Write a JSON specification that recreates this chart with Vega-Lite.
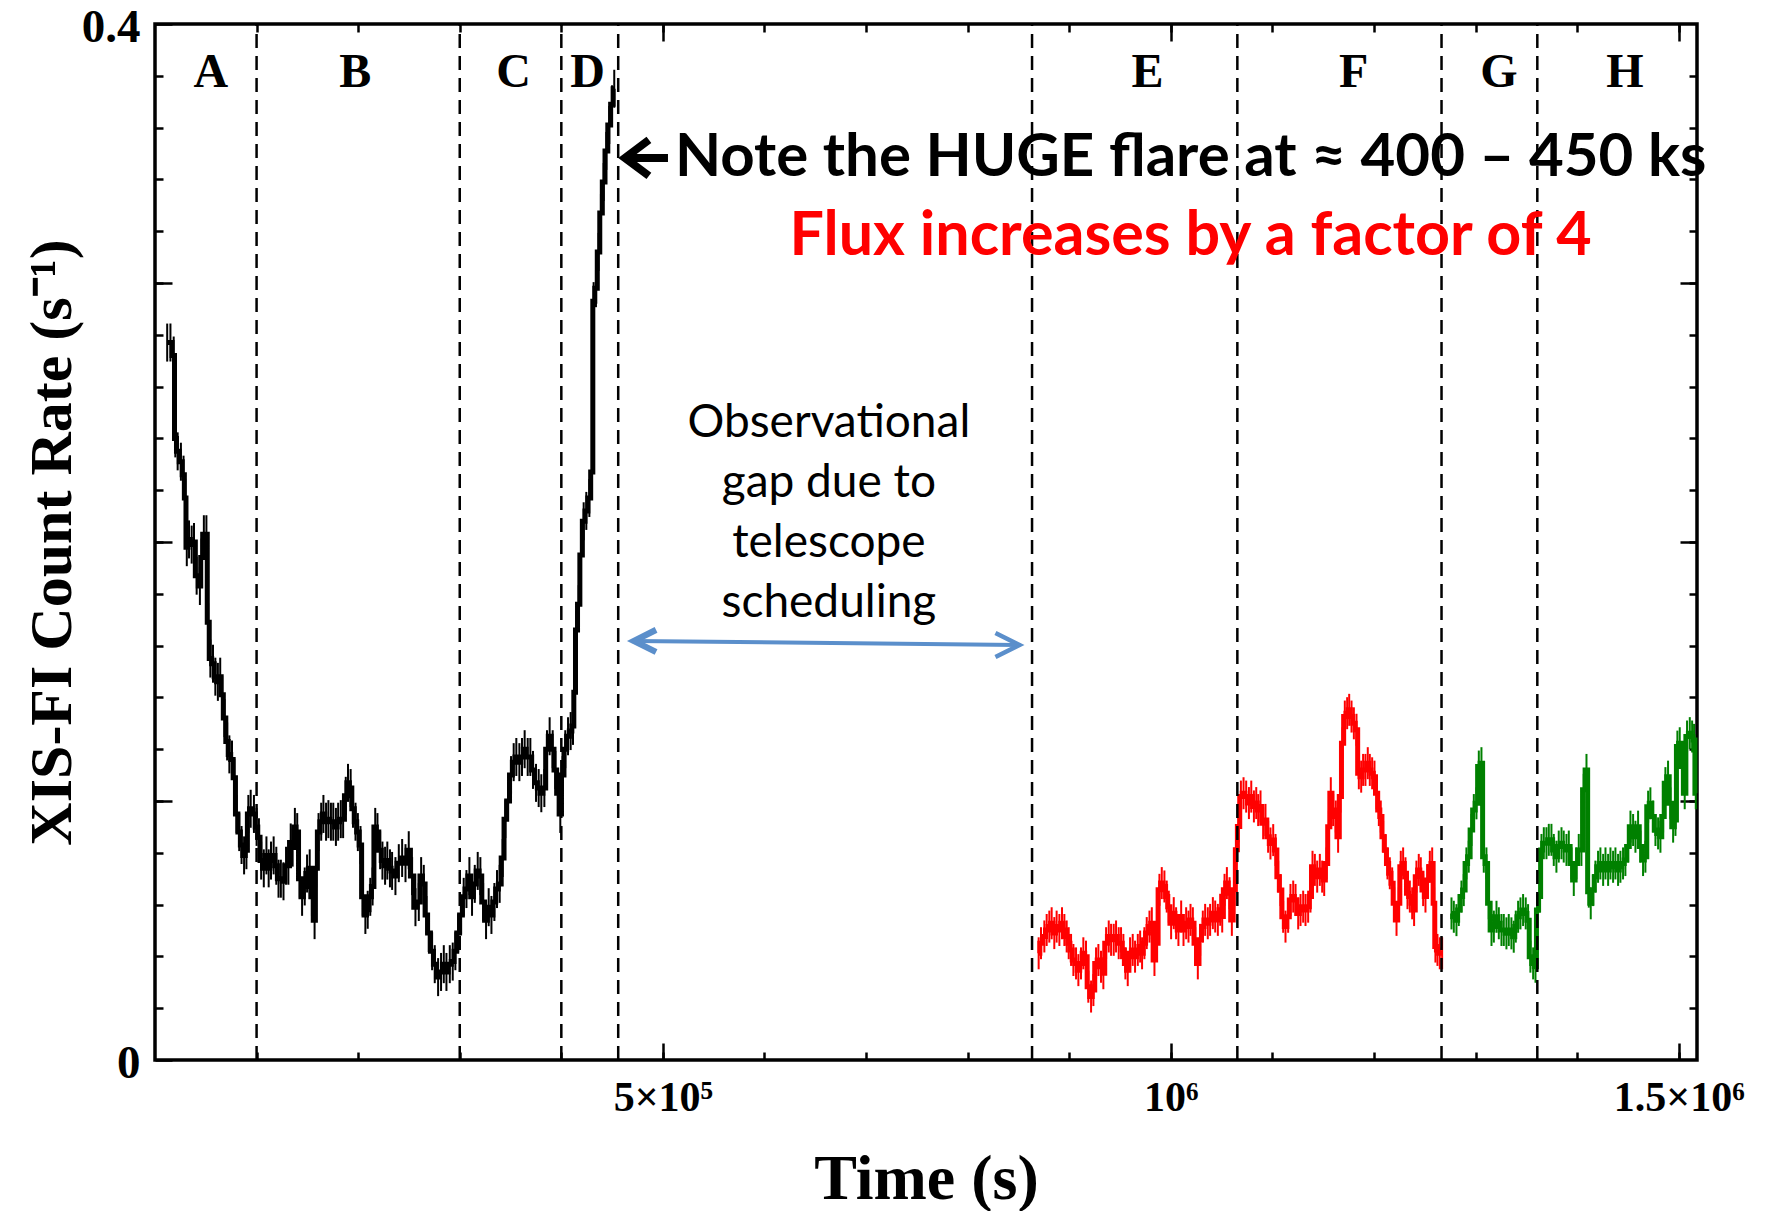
{
"$schema": "https://vega.github.io/schema/vega-lite/v6.json",
"width": 1542, "height": 1036,
"autosize": {"type": "none"},
"padding": {"left": 155, "top": 24, "right": 72, "bottom": 151},
"background": "white",
"config": {
 "view": {"stroke": "#000000", "strokeWidth": 3.5},
 "axis": {"domain": false, "grid": false, "tickColor": "#000000", "tickWidth": 2.5, "labelFlush": false, "labelOverlap": false, "labelBound": false, "labelFont": "Liberation Serif", "labelFontWeight": "bold", "labelColor": "#000000", "titleFont": "Liberation Serif", "titleFontWeight": "bold", "titleColor": "#000000"}
},
"datasets": {
 "lc": [
{"t":12000,"rate":0.277,"seg":"k"},{"t":15200,"rate":0.277,"seg":"k"},{"t":18400,"rate":0.272,"seg":"k"},{"t":20000,"rate":0.240,"seg":"k"},{"t":22300,"rate":0.235,"seg":"k"},{"t":25500,"rate":0.231,"seg":"k"},{"t":28100,"rate":0.226,"seg":"k"},{"t":29700,"rate":0.217,"seg":"k"},{"t":31300,"rate":0.198,"seg":"k"},{"t":33500,"rate":0.201,"seg":"k"},{"t":36100,"rate":0.199,"seg":"k"},{"t":38400,"rate":0.200,"seg":"k"},{"t":41000,"rate":0.187,"seg":"k"},{"t":44200,"rate":0.183,"seg":"k"},{"t":45800,"rate":0.194,"seg":"k"},{"t":48100,"rate":0.203,"seg":"k"},{"t":50600,"rate":0.203,"seg":"k"},{"t":52300,"rate":0.169,"seg":"k"},{"t":54500,"rate":0.155,"seg":"k"},{"t":57100,"rate":0.153,"seg":"k"},{"t":59400,"rate":0.148,"seg":"k"},{"t":61900,"rate":0.146,"seg":"k"},{"t":64200,"rate":0.148,"seg":"k"},{"t":66100,"rate":0.141,"seg":"k"},{"t":68400,"rate":0.132,"seg":"k"},{"t":71000,"rate":0.123,"seg":"k"},{"t":73200,"rate":0.118,"seg":"k"},{"t":75800,"rate":0.116,"seg":"k"},{"t":78100,"rate":0.109,"seg":"k"},{"t":80300,"rate":0.095,"seg":"k"},{"t":82900,"rate":0.088,"seg":"k"},{"t":85200,"rate":0.083,"seg":"k"},{"t":87700,"rate":0.079,"seg":"k"},{"t":90000,"rate":0.081,"seg":"k"},{"t":91900,"rate":0.095,"seg":"k"},{"t":94200,"rate":0.097,"seg":"k"},{"t":97400,"rate":0.095,"seg":"k"},{"t":100000,"rate":0.090,"seg":"k"},{"t":102300,"rate":0.086,"seg":"k"},{"t":104500,"rate":0.077,"seg":"k"},{"t":107100,"rate":0.074,"seg":"k"},{"t":109700,"rate":0.079,"seg":"k"},{"t":111900,"rate":0.074,"seg":"k"},{"t":114200,"rate":0.077,"seg":"k"},{"t":116800,"rate":0.079,"seg":"k"},{"t":119400,"rate":0.075,"seg":"k"},{"t":121600,"rate":0.070,"seg":"k"},{"t":123900,"rate":0.070,"seg":"k"},{"t":126500,"rate":0.069,"seg":"k"},{"t":129000,"rate":0.075,"seg":"k"},{"t":131300,"rate":0.075,"seg":"k"},{"t":133600,"rate":0.084,"seg":"k"},{"t":135500,"rate":0.082,"seg":"k"},{"t":137700,"rate":0.090,"seg":"k"},{"t":140000,"rate":0.088,"seg":"k"},{"t":142600,"rate":0.070,"seg":"k"},{"t":144800,"rate":0.063,"seg":"k"},{"t":147400,"rate":0.067,"seg":"k"},{"t":149700,"rate":0.072,"seg":"k"},{"t":152300,"rate":0.074,"seg":"k"},{"t":154500,"rate":0.063,"seg":"k"},{"t":157100,"rate":0.054,"seg":"k"},{"t":158700,"rate":0.074,"seg":"k"},{"t":161000,"rate":0.088,"seg":"k"},{"t":163600,"rate":0.092,"seg":"k"},{"t":165800,"rate":0.095,"seg":"k"},{"t":168400,"rate":0.092,"seg":"k"},{"t":170700,"rate":0.093,"seg":"k"},{"t":173200,"rate":0.092,"seg":"k"},{"t":175500,"rate":0.092,"seg":"k"},{"t":178100,"rate":0.090,"seg":"k"},{"t":180300,"rate":0.092,"seg":"k"},{"t":182900,"rate":0.093,"seg":"k"},{"t":185200,"rate":0.093,"seg":"k"},{"t":187800,"rate":0.102,"seg":"k"},{"t":190000,"rate":0.107,"seg":"k"},{"t":192600,"rate":0.105,"seg":"k"},{"t":194900,"rate":0.097,"seg":"k"},{"t":197400,"rate":0.092,"seg":"k"},{"t":199700,"rate":0.088,"seg":"k"},{"t":202300,"rate":0.083,"seg":"k"},{"t":204500,"rate":0.063,"seg":"k"},{"t":207100,"rate":0.056,"seg":"k"},{"t":209400,"rate":0.058,"seg":"k"},{"t":211900,"rate":0.063,"seg":"k"},{"t":214200,"rate":0.067,"seg":"k"},{"t":216800,"rate":0.090,"seg":"k"},{"t":219000,"rate":0.088,"seg":"k"},{"t":221600,"rate":0.081,"seg":"k"},{"t":223900,"rate":0.077,"seg":"k"},{"t":226500,"rate":0.075,"seg":"k"},{"t":228700,"rate":0.077,"seg":"k"},{"t":231300,"rate":0.074,"seg":"k"},
{"t":233400,"rate":0.073,"seg":"k"},{"t":236700,"rate":0.071,"seg":"k"},{"t":240000,"rate":0.076,"seg":"k"},{"t":243300,"rate":0.078,"seg":"k"},{"t":246600,"rate":0.076,"seg":"k"},{"t":249800,"rate":0.081,"seg":"k"},{"t":253100,"rate":0.071,"seg":"k"},{"t":256400,"rate":0.059,"seg":"k"},{"t":259700,"rate":0.061,"seg":"k"},{"t":262000,"rate":0.071,"seg":"k"},{"t":264600,"rate":0.068,"seg":"k"},{"t":267200,"rate":0.056,"seg":"k"},{"t":269500,"rate":0.049,"seg":"k"},{"t":272800,"rate":0.042,"seg":"k"},{"t":275400,"rate":0.037,"seg":"k"},{"t":278700,"rate":0.032,"seg":"k"},{"t":281600,"rate":0.034,"seg":"k"},{"t":284300,"rate":0.037,"seg":"k"},{"t":286900,"rate":0.034,"seg":"k"},{"t":290200,"rate":0.037,"seg":"k"},{"t":293100,"rate":0.038,"seg":"k"},{"t":295700,"rate":0.042,"seg":"k"},{"t":298400,"rate":0.049,"seg":"k"},{"t":301300,"rate":0.056,"seg":"k"},{"t":303900,"rate":0.063,"seg":"k"},{"t":306600,"rate":0.066,"seg":"k"},{"t":309500,"rate":0.071,"seg":"k"},{"t":312100,"rate":0.063,"seg":"k"},{"t":314800,"rate":0.068,"seg":"k"},{"t":317700,"rate":0.073,"seg":"k"},{"t":320300,"rate":0.071,"seg":"k"},{"t":323000,"rate":0.061,"seg":"k"},{"t":325900,"rate":0.054,"seg":"k"},{"t":328500,"rate":0.059,"seg":"k"},{"t":331200,"rate":0.056,"seg":"k"},{"t":334100,"rate":0.061,"seg":"k"},{"t":336700,"rate":0.066,"seg":"k"},{"t":339300,"rate":0.068,"seg":"k"},{"t":342300,"rate":0.078,"seg":"k"},{"t":344900,"rate":0.093,"seg":"k"},{"t":347500,"rate":0.100,"seg":"k"},{"t":350500,"rate":0.110,"seg":"k"},{"t":353100,"rate":0.115,"seg":"k"},{"t":355700,"rate":0.117,"seg":"k"},{"t":358700,"rate":0.115,"seg":"k"},{"t":361300,"rate":0.117,"seg":"k"},{"t":363900,"rate":0.120,"seg":"k"},{"t":366900,"rate":0.117,"seg":"k"},{"t":369500,"rate":0.117,"seg":"k"},{"t":372100,"rate":0.112,"seg":"k"},{"t":375100,"rate":0.107,"seg":"k"},{"t":377700,"rate":0.105,"seg":"k"},{"t":380300,"rate":0.103,"seg":"k"},{"t":383300,"rate":0.105,"seg":"k"},{"t":385900,"rate":0.120,"seg":"k"},{"t":388500,"rate":0.125,"seg":"k"},{"t":391500,"rate":0.120,"seg":"k"},{"t":394100,"rate":0.112,"seg":"k"},{"t":396700,"rate":0.103,"seg":"k"},{"t":399000,"rate":0.095,"seg":"k"},{"t":401300,"rate":0.110,"seg":"k"},{"t":403900,"rate":0.120,"seg":"k"},{"t":406600,"rate":0.125,"seg":"k"},{"t":409200,"rate":0.127,"seg":"k"},{"t":411500,"rate":0.129,"seg":"k"},{"t":413100,"rate":0.142,"seg":"k"},{"t":414800,"rate":0.166,"seg":"k"},{"t":417100,"rate":0.176,"seg":"k"},{"t":419400,"rate":0.195,"seg":"k"},{"t":422000,"rate":0.208,"seg":"k"},{"t":424600,"rate":0.212,"seg":"k"},{"t":427600,"rate":0.217,"seg":"k"},{"t":430200,"rate":0.227,"seg":"k"},{"t":431800,"rate":0.293,"seg":"k"},{"t":434100,"rate":0.298,"seg":"k"},{"t":436700,"rate":0.312,"seg":"k"},{"t":439000,"rate":0.327,"seg":"k"},{"t":441700,"rate":0.339,"seg":"k"},{"t":444300,"rate":0.351,"seg":"k"},{"t":447200,"rate":0.361,"seg":"k"},{"t":449900,"rate":0.369,"seg":"k"},{"t":452100,"rate":0.375,"seg":"k"},
{"t":869900,"rate":0.0412,"seg":"r"},{"t":872200,"rate":0.0451,"seg":"r"},{"t":875500,"rate":0.0477,"seg":"r"},{"t":877800,"rate":0.0502,"seg":"r"},{"t":880400,"rate":0.0515,"seg":"r"},{"t":882700,"rate":0.0528,"seg":"r"},{"t":885300,"rate":0.0490,"seg":"r"},{"t":887600,"rate":0.0515,"seg":"r"},{"t":890300,"rate":0.0502,"seg":"r"},{"t":892900,"rate":0.0528,"seg":"r"},{"t":895200,"rate":0.0502,"seg":"r"},{"t":897500,"rate":0.0477,"seg":"r"},{"t":899500,"rate":0.0451,"seg":"r"},{"t":901800,"rate":0.0425,"seg":"r"},{"t":904100,"rate":0.0386,"seg":"r"},{"t":906700,"rate":0.0373,"seg":"r"},{"t":909000,"rate":0.0347,"seg":"r"},{"t":911600,"rate":0.0373,"seg":"r"},{"t":913900,"rate":0.0412,"seg":"r"},{"t":916500,"rate":0.0399,"seg":"r"},{"t":918800,"rate":0.0283,"seg":"r"},{"t":921500,"rate":0.0245,"seg":"r"},{"t":923800,"rate":0.0270,"seg":"r"},{"t":926400,"rate":0.0373,"seg":"r"},{"t":928700,"rate":0.0386,"seg":"r"},{"t":931300,"rate":0.0360,"seg":"r"},{"t":933600,"rate":0.0335,"seg":"r"},{"t":936300,"rate":0.0451,"seg":"r"},{"t":938900,"rate":0.0477,"seg":"r"},{"t":941200,"rate":0.0464,"seg":"r"},{"t":943800,"rate":0.0464,"seg":"r"},{"t":946100,"rate":0.0477,"seg":"r"},{"t":948700,"rate":0.0451,"seg":"r"},{"t":951000,"rate":0.0451,"seg":"r"},{"t":953300,"rate":0.0425,"seg":"r"},{"t":955300,"rate":0.0373,"seg":"r"},{"t":957600,"rate":0.0347,"seg":"r"},{"t":959900,"rate":0.0412,"seg":"r"},{"t":962500,"rate":0.0425,"seg":"r"},{"t":964800,"rate":0.0399,"seg":"r"},{"t":967500,"rate":0.0425,"seg":"r"},{"t":969800,"rate":0.0438,"seg":"r"},{"t":971700,"rate":0.0412,"seg":"r"},{"t":974000,"rate":0.0451,"seg":"r"},{"t":976300,"rate":0.0490,"seg":"r"},{"t":979000,"rate":0.0515,"seg":"r"},{"t":981300,"rate":0.0528,"seg":"r"},{"t":983900,"rate":0.0386,"seg":"r"},{"t":986200,"rate":0.0451,"seg":"r"},{"t":988800,"rate":0.0657,"seg":"r"},{"t":991100,"rate":0.0683,"seg":"r"},{"t":993700,"rate":0.0670,"seg":"r"},{"t":996000,"rate":0.0631,"seg":"r"},{"t":998000,"rate":0.0592,"seg":"r"},{"t":1000300,"rate":0.0528,"seg":"r"},{"t":1002900,"rate":0.0567,"seg":"r"},{"t":1005200,"rate":0.0528,"seg":"r"},{"t":1007500,"rate":0.0502,"seg":"r"},{"t":1010200,"rate":0.0554,"seg":"r"},{"t":1012500,"rate":0.0502,"seg":"r"},{"t":1015100,"rate":0.0528,"seg":"r"},{"t":1017400,"rate":0.0515,"seg":"r"},{"t":1019400,"rate":0.0541,"seg":"r"},{"t":1021700,"rate":0.0528,"seg":"r"},{"t":1024000,"rate":0.0451,"seg":"r"},{"t":1026600,"rate":0.0373,"seg":"r"},{"t":1028900,"rate":0.0464,"seg":"r"},{"t":1031500,"rate":0.0515,"seg":"r"},{"t":1033800,"rate":0.0541,"seg":"r"},{"t":1036400,"rate":0.0528,"seg":"r"},{"t":1038700,"rate":0.0541,"seg":"r"},{"t":1041400,"rate":0.0567,"seg":"r"},{"t":1043700,"rate":0.0554,"seg":"r"},{"t":1046300,"rate":0.0541,"seg":"r"},{"t":1048600,"rate":0.0580,"seg":"r"},{"t":1050600,"rate":0.0554,"seg":"r"},{"t":1052900,"rate":0.0657,"seg":"r"},{"t":1055200,"rate":0.0683,"seg":"r"},{"t":1057800,"rate":0.0644,"seg":"r"},{"t":1060100,"rate":0.0541,"seg":"r"},{"t":1062700,"rate":0.0657,"seg":"r"},{"t":1064400,"rate":0.0812,"seg":"r"},{"t":1066700,"rate":0.0902,"seg":"r"},{"t":1069000,"rate":0.1017,"seg":"r"},{"t":1071600,"rate":0.1030,"seg":"r"},{"t":1074200,"rate":0.1017,"seg":"r"},{"t":1076900,"rate":0.0992,"seg":"r"},{"t":1079200,"rate":0.1017,"seg":"r"},{"t":1081800,"rate":0.0979,"seg":"r"},{"t":1084100,"rate":0.0992,"seg":"r"},
{"t":1086000,"rate":0.0965,"seg":"r"},{"t":1088300,"rate":0.0979,"seg":"r"},{"t":1090900,"rate":0.0914,"seg":"r"},{"t":1093200,"rate":0.0927,"seg":"r"},{"t":1095800,"rate":0.0862,"seg":"r"},{"t":1098100,"rate":0.0836,"seg":"r"},{"t":1100800,"rate":0.0849,"seg":"r"},{"t":1103100,"rate":0.0811,"seg":"r"},{"t":1105700,"rate":0.0708,"seg":"r"},{"t":1108000,"rate":0.0656,"seg":"r"},{"t":1110600,"rate":0.0553,"seg":"r"},{"t":1112900,"rate":0.0515,"seg":"r"},{"t":1115500,"rate":0.0553,"seg":"r"},{"t":1117800,"rate":0.0618,"seg":"r"},{"t":1120500,"rate":0.0631,"seg":"r"},{"t":1122800,"rate":0.0618,"seg":"r"},{"t":1125400,"rate":0.0566,"seg":"r"},{"t":1127700,"rate":0.0579,"seg":"r"},{"t":1130300,"rate":0.0592,"seg":"r"},{"t":1132600,"rate":0.0579,"seg":"r"},{"t":1135200,"rate":0.0592,"seg":"r"},{"t":1137500,"rate":0.0631,"seg":"r"},{"t":1139500,"rate":0.0746,"seg":"r"},{"t":1141800,"rate":0.0734,"seg":"r"},{"t":1144100,"rate":0.0708,"seg":"r"},{"t":1146700,"rate":0.0734,"seg":"r"},{"t":1149000,"rate":0.0708,"seg":"r"},{"t":1151000,"rate":0.0695,"seg":"r"},{"t":1153300,"rate":0.0759,"seg":"r"},{"t":1155600,"rate":0.0901,"seg":"r"},{"t":1157500,"rate":0.1030,"seg":"r"},{"t":1159800,"rate":0.0965,"seg":"r"},{"t":1162400,"rate":0.0940,"seg":"r"},{"t":1164700,"rate":0.0862,"seg":"r"},{"t":1167000,"rate":0.1017,"seg":"r"},{"t":1169000,"rate":0.1223,"seg":"r"},{"t":1171300,"rate":0.1326,"seg":"r"},{"t":1173600,"rate":0.1339,"seg":"r"},{"t":1175600,"rate":0.1352,"seg":"r"},{"t":1177900,"rate":0.1326,"seg":"r"},{"t":1180200,"rate":0.1300,"seg":"r"},{"t":1182800,"rate":0.1275,"seg":"r"},{"t":1185100,"rate":0.1107,"seg":"r"},{"t":1187400,"rate":0.1094,"seg":"r"},{"t":1189300,"rate":0.1120,"seg":"r"},{"t":1191600,"rate":0.1120,"seg":"r"},{"t":1193900,"rate":0.1146,"seg":"r"},{"t":1195900,"rate":0.1120,"seg":"r"},{"t":1198200,"rate":0.1107,"seg":"r"},{"t":1200500,"rate":0.1094,"seg":"r"},{"t":1202500,"rate":0.1030,"seg":"r"},{"t":1204800,"rate":0.0965,"seg":"r"},{"t":1206700,"rate":0.0940,"seg":"r"},{"t":1209000,"rate":0.0862,"seg":"r"},{"t":1211300,"rate":0.0811,"seg":"r"},{"t":1213300,"rate":0.0759,"seg":"r"},{"t":1215600,"rate":0.0721,"seg":"r"},{"t":1217900,"rate":0.0682,"seg":"r"},{"t":1219900,"rate":0.0605,"seg":"r"},{"t":1222200,"rate":0.0541,"seg":"r"},{"t":1224500,"rate":0.0605,"seg":"r"},{"t":1226400,"rate":0.0746,"seg":"r"},{"t":1228700,"rate":0.0759,"seg":"r"},{"t":1231000,"rate":0.0721,"seg":"r"},{"t":1233000,"rate":0.0644,"seg":"r"},{"t":1235300,"rate":0.0631,"seg":"r"},{"t":1237600,"rate":0.0605,"seg":"r"},{"t":1239500,"rate":0.0579,"seg":"r"},{"t":1241800,"rate":0.0708,"seg":"r"},{"t":1244100,"rate":0.0734,"seg":"r"},{"t":1246100,"rate":0.0721,"seg":"r"},{"t":1248400,"rate":0.0656,"seg":"r"},{"t":1250700,"rate":0.0631,"seg":"r"},{"t":1252700,"rate":0.0695,"seg":"r"},{"t":1255000,"rate":0.0746,"seg":"r"},{"t":1257300,"rate":0.0759,"seg":"r"},{"t":1259200,"rate":0.0605,"seg":"r"},{"t":1260500,"rate":0.0438,"seg":"r"},{"t":1262500,"rate":0.0425,"seg":"r"},{"t":1264800,"rate":0.0412,"seg":"r"},{"t":1267100,"rate":0.0412,"seg":"r"},
{"t":1276300,"rate":0.0566,"seg":"g"},{"t":1278600,"rate":0.0553,"seg":"g"},{"t":1281200,"rate":0.0540,"seg":"g"},{"t":1283500,"rate":0.0579,"seg":"g"},{"t":1286100,"rate":0.0631,"seg":"g"},{"t":1288400,"rate":0.0656,"seg":"g"},{"t":1291000,"rate":0.0759,"seg":"g"},{"t":1293300,"rate":0.0785,"seg":"g"},{"t":1296000,"rate":0.0888,"seg":"g"},{"t":1298300,"rate":0.0965,"seg":"g"},{"t":1300900,"rate":0.0991,"seg":"g"},{"t":1303200,"rate":0.1133,"seg":"g"},{"t":1305800,"rate":0.1146,"seg":"g"},{"t":1308100,"rate":0.0785,"seg":"g"},{"t":1310700,"rate":0.0759,"seg":"g"},{"t":1313000,"rate":0.0605,"seg":"g"},{"t":1315700,"rate":0.0502,"seg":"g"},{"t":1318000,"rate":0.0515,"seg":"g"},{"t":1320600,"rate":0.0553,"seg":"g"},{"t":1322900,"rate":0.0528,"seg":"g"},{"t":1325500,"rate":0.0502,"seg":"g"},{"t":1327800,"rate":0.0502,"seg":"g"},{"t":1330400,"rate":0.0489,"seg":"g"},{"t":1332700,"rate":0.0502,"seg":"g"},{"t":1335300,"rate":0.0489,"seg":"g"},{"t":1337600,"rate":0.0476,"seg":"g"},{"t":1339600,"rate":0.0515,"seg":"g"},{"t":1341900,"rate":0.0553,"seg":"g"},{"t":1344200,"rate":0.0566,"seg":"g"},{"t":1346800,"rate":0.0579,"seg":"g"},{"t":1349400,"rate":0.0566,"seg":"g"},{"t":1351700,"rate":0.0540,"seg":"g"},{"t":1354000,"rate":0.0399,"seg":"g"},{"t":1356700,"rate":0.0373,"seg":"g"},{"t":1359000,"rate":0.0360,"seg":"g"},{"t":1360900,"rate":0.0579,"seg":"g"},{"t":1363200,"rate":0.0631,"seg":"g"},{"t":1364900,"rate":0.0811,"seg":"g"},{"t":1367200,"rate":0.0837,"seg":"g"},{"t":1369800,"rate":0.0837,"seg":"g"},{"t":1372100,"rate":0.0850,"seg":"g"},{"t":1374700,"rate":0.0850,"seg":"g"},{"t":1377000,"rate":0.0811,"seg":"g"},{"t":1379600,"rate":0.0785,"seg":"g"},{"t":1381900,"rate":0.0824,"seg":"g"},{"t":1384600,"rate":0.0837,"seg":"g"},{"t":1386800,"rate":0.0824,"seg":"g"},{"t":1389500,"rate":0.0811,"seg":"g"},{"t":1391800,"rate":0.0824,"seg":"g"},{"t":1394400,"rate":0.0759,"seg":"g"},{"t":1396700,"rate":0.0695,"seg":"g"},{"t":1399300,"rate":0.0759,"seg":"g"},{"t":1401600,"rate":0.0811,"seg":"g"},{"t":1404200,"rate":0.0811,"seg":"g"},{"t":1406500,"rate":0.1043,"seg":"g"},{"t":1409200,"rate":0.1120,"seg":"g"},{"t":1411500,"rate":0.0650,"seg":"g"},{"t":1413400,"rate":0.0605,"seg":"g"},{"t":1415700,"rate":0.0656,"seg":"g"},{"t":1418000,"rate":0.0708,"seg":"g"},{"t":1420600,"rate":0.0746,"seg":"g"},{"t":1422900,"rate":0.0759,"seg":"g"},{"t":1425600,"rate":0.0734,"seg":"g"},{"t":1427900,"rate":0.0759,"seg":"g"},{"t":1430500,"rate":0.0734,"seg":"g"},{"t":1432800,"rate":0.0759,"seg":"g"},{"t":1435400,"rate":0.0746,"seg":"g"},{"t":1437700,"rate":0.0759,"seg":"g"},{"t":1440300,"rate":0.0734,"seg":"g"},{"t":1442600,"rate":0.0746,"seg":"g"},{"t":1445200,"rate":0.0759,"seg":"g"},{"t":1447500,"rate":0.0772,"seg":"g"},{"t":1450200,"rate":0.0824,"seg":"g"},{"t":1452500,"rate":0.0901,"seg":"g"},{"t":1455100,"rate":0.0888,"seg":"g"},{"t":1457400,"rate":0.0862,"seg":"g"},{"t":1460000,"rate":0.0901,"seg":"g"},{"t":1462300,"rate":0.0824,"seg":"g"},{"t":1464900,"rate":0.0772,"seg":"g"},{"t":1467200,"rate":0.0785,"seg":"g"},{"t":1469900,"rate":0.0978,"seg":"g"},{"t":1472100,"rate":0.0991,"seg":"g"},{"t":1474800,"rate":0.0940,"seg":"g"},{"t":1477100,"rate":0.0888,"seg":"g"},{"t":1479700,"rate":0.0875,"seg":"g"},{"t":1482000,"rate":0.0862,"seg":"g"},{"t":1484600,"rate":0.0940,"seg":"g"},{"t":1486900,"rate":0.1069,"seg":"g"},{"t":1489500,"rate":0.1094,"seg":"g"},{"t":1491800,"rate":0.0991,"seg":"g"},{"t":1494500,"rate":0.0901,"seg":"g"},{"t":1496800,"rate":0.0927,"seg":"g"},{"t":1498700,"rate":0.1210,"seg":"g"},{"t":1501000,"rate":0.1223,"seg":"g"},{"t":1503300,"rate":0.1133,"seg":"g"},{"t":1505900,"rate":0.1030,"seg":"g"},{"t":1508200,"rate":0.1249,"seg":"g"},{"t":1510900,"rate":0.1262,"seg":"g"},{"t":1513200,"rate":0.1249,"seg":"g"},{"t":1515100,"rate":0.1236,"seg":"g"},{"t":1516800,"rate":0.1030,"seg":"g"}
 ],
 "bounds": [{"t":100000},{"t":300000},{"t":400000},{"t":456000},{"t":863400},{"t":1065500},{"t":1266500},{"t":1360800}],
 "letters": [{"t":55000,"lab":"A"},{"t":197200,"lab":"B"},{"t":353000,"lab":"C"},{"t":425900,"lab":"D"},{"t":977000,"lab":"E"},{"t":1180000,"lab":"F"},{"t":1323000,"lab":"G"},{"t":1447000,"lab":"H"}]
},
"layer": [
 {
  "data": {"name": "lc"},
  "transform": [{"filter": "datum.seg == 'k'"}],
  "mark": {"type": "tick", "orient": "vertical", "size": 38, "thickness": 2, "opacity": 1},
  "encoding": {
   "x": {"field": "t", "type": "quantitative", "axis": null},
   "y": {"field": "rate", "type": "quantitative", "axis": null},
   "color": {"field": "seg", "type": "nominal", "legend": null}
  }
 },
 {
  "data": {"name": "lc"},
  "transform": [{"filter": "datum.seg != 'k'"}],
  "mark": {"type": "tick", "orient": "vertical", "size": 32, "thickness": 2, "opacity": 1},
  "encoding": {
   "x": {"field": "t", "type": "quantitative", "axis": null},
   "y": {"field": "rate", "type": "quantitative", "axis": null},
   "color": {"field": "seg", "type": "nominal", "legend": null}
  }
 },
 {
  "data": {"name": "lc"},
  "mark": {"type": "line", "interpolate": "step", "strokeWidth": 5},
  "encoding": {
   "x": {"field": "t", "type": "quantitative", "scale": {"domain": [0, 1518000], "nice": false, "zero": false},
    "axis": {"orient": "bottom", "values": [500000, 1000000, 1500000], "tickSize": -17,
     "labelExpr": "datum.value < 700000 ? '5×10⁵' : datum.value < 1200000 ? '10⁶' : '1.5×10⁶'",
     "labelFontSize": 42, "labelBaseline": "alphabetic", "labelAlign": "center", "labelPadding": 67,
     "title": "Time (s)", "titleFontSize": 64, "titleBaseline": "alphabetic", "titleAlign": "center", "titleX": 771, "titleY": 138}},
   "y": {"field": "rate", "type": "quantitative", "scale": {"domain": [0, 0.4], "nice": false, "zero": false},
    "axis": {"orient": "left", "values": [0, 0.1, 0.2, 0.3, 0.4], "tickSize": -17,
     "labelExpr": "datum.value < 0.001 ? '0' : datum.value > 0.399 ? '0.4' : ''",
     "labelFontSize": 47, "labelAlign": "right", "labelBaseline": "middle", "labelPadding": 32, "labelOffset": 3,
     "title": "XIS-FI Count Rate (s⁻¹)", "titleFontSize": 60, "titleAngle": -90, "titleBaseline": "alphabetic", "titleAlign": "center", "titleX": -85, "titleY": 518}},
   "color": {"field": "seg", "type": "nominal", "scale": {"domain": ["k", "r", "g"], "range": ["#000000", "#ff0000", "#008000"]}, "legend": null}
  }
 },
 {
  "data": {"name": "bounds"},
  "mark": {"type": "rule", "strokeDash": [14, 8], "strokeWidth": 2.5, "color": "#000000"},
  "encoding": {
   "x": {"field": "t", "type": "quantitative", "scale": {"domain": [0, 1518000], "nice": false, "zero": false},
    "axis": {"orient": "top", "values": [100000,200000,300000,400000,500000,600000,700000,800000,900000,1000000,1100000,1200000,1300000,1400000,1500000], "tickSize": -8, "labels": false, "title": null}},
   "y": {"datum": 0, "type": "quantitative", "scale": {"domain": [0, 0.4], "nice": false, "zero": false},
    "axis": {"orient": "right", "values": [0.02,0.04,0.06,0.08,0.1,0.12,0.14,0.16,0.18,0.2,0.22,0.24,0.26,0.28,0.3,0.32,0.34,0.36,0.38], "tickSize": -8, "labels": false, "title": null}},
   "y2": {"datum": 0.4}
  }
 },
 {
  "data": {"name": "letters"},
  "mark": {"type": "text", "font": "Liberation Serif", "fontWeight": "bold", "fontSize": 48, "baseline": "alphabetic", "align": "center", "color": "#000000"},
  "encoding": {
   "x": {"field": "t", "type": "quantitative", "scale": {"domain": [0, 1518000], "nice": false, "zero": false},
    "axis": {"orient": "bottom", "values": [100000,200000,300000,400000,500000,600000,700000,800000,900000,1000000,1100000,1200000,1300000,1400000,1500000], "tickSize": -8, "labels": false, "title": null}},
   "y": {"datum": 0.3756, "type": "quantitative", "scale": {"domain": [0, 0.4], "nice": false, "zero": false},
    "axis": {"orient": "left", "values": [0.02,0.04,0.06,0.08,0.1,0.12,0.14,0.16,0.18,0.2,0.22,0.24,0.26,0.28,0.3,0.32,0.34,0.36,0.38], "tickSize": -8, "labels": false, "title": null}},
   "text": {"field": "lab"}
  }
 },
 {
  "data": {"values": [{"t": 1019500, "rate": 0.3483, "txt": "Note the HUGE flare at ≈ 400 – 450 ks"}]},
  "mark": {"type": "text", "font": "Lato", "fontWeight": "bold", "fontSize": 60, "baseline": "middle", "align": "center", "color": "#000000"},
  "encoding": {
   "x": {"field": "t", "type": "quantitative", "scale": {"domain": [0, 1518000], "nice": false, "zero": false},
    "axis": {"orient": "top", "values": [500000, 1000000, 1500000], "tickSize": -17, "labels": false, "title": null}},
   "y": {"field": "rate", "type": "quantitative", "scale": {"domain": [0, 0.4], "nice": false, "zero": false},
    "axis": {"orient": "right", "values": [0.1, 0.2, 0.3], "tickSize": -17, "labels": false, "title": null}},
   "text": {"field": "txt"}
  }
 },
 {
  "data": {"values": [{"t": 462600, "rate": 0.3483, "t2": 505000, "rate2": 0.3483}]},
  "mark": {"type": "rule", "strokeWidth": 8, "color": "#000000"},
  "encoding": {
   "x": {"field": "t", "type": "quantitative", "axis": null},
   "x2": {"field": "t2"},
   "y": {"field": "rate", "type": "quantitative", "axis": null},
   "y2": {"field": "rate2"}
  }
 },
 {
  "data": {"values": [{"t": 462600, "rate": 0.3483, "dir": "K"}, {"t": 471500, "rate": 0.1618, "dir": "L"}, {"t": 851000, "rate": 0.1602, "dir": "R"}]},
  "mark": {"type": "point", "filled": false, "opacity": 1, "strokeJoin": "miter"},
  "encoding": {
   "x": {"field": "t", "type": "quantitative", "axis": null},
   "y": {"field": "rate", "type": "quantitative", "axis": null},
   "shape": {"field": "dir", "type": "nominal", "scale": {"domain": ["K", "L", "R"], "range": ["M2.4,-1.8L0,0L2.4,1.8", "M2,-1L0,0L2,1", "M-2,-1L0,0L-2,1"]}, "legend": null},
   "size": {"field": "dir", "type": "nominal", "scale": {"domain": ["K", "L", "R"], "range": [400, 576, 576]}, "legend": null},
   "strokeWidth": {"field": "dir", "type": "nominal", "scale": {"domain": ["K", "L", "R"], "range": [8, 4.5, 4.5]}, "legend": null},
   "stroke": {"field": "dir", "type": "nominal", "scale": {"domain": ["K", "L", "R"], "range": ["#000000", "#5B8FCB", "#5B8FCB"]}, "legend": null}
  }
 },
 {
  "data": {"values": [{"t": 1019400, "rate": 0.3178, "txt": "Flux increases by a factor of 4"}]},
  "mark": {"type": "text", "font": "Lato", "fontWeight": "bold", "fontSize": 61, "baseline": "middle", "align": "center", "color": "#ff0000"},
  "encoding": {
   "x": {"field": "t", "type": "quantitative", "axis": null},
   "y": {"field": "rate", "type": "quantitative", "axis": null},
   "text": {"field": "txt"}
  }
 },
 {
  "data": {"values": [{"t": 663400, "rate": 0.2459, "txt": "Observational\ngap due to\ntelescope\nscheduling"}]},
  "mark": {"type": "text", "font": "Lato", "fontSize": 46, "baseline": "middle", "align": "center", "color": "#000000", "lineBreak": "\n", "lineHeight": 60},
  "encoding": {
   "x": {"field": "t", "type": "quantitative", "axis": null},
   "y": {"field": "rate", "type": "quantitative", "axis": null},
   "text": {"field": "txt"}
  }
 },
 {
  "data": {"values": [{"t": 471500, "rate": 0.1618, "t2": 851000, "rate2": 0.1602}]},
  "mark": {"type": "rule", "strokeWidth": 4, "color": "#5B8FCB", "strokeCap": "round"},
  "encoding": {
   "x": {"field": "t", "type": "quantitative", "axis": null},
   "x2": {"field": "t2"},
   "y": {"field": "rate", "type": "quantitative", "axis": null},
   "y2": {"field": "rate2"}
  }
 }
],
"resolve": {"axis": {"x": "independent", "y": "independent"}}
}
